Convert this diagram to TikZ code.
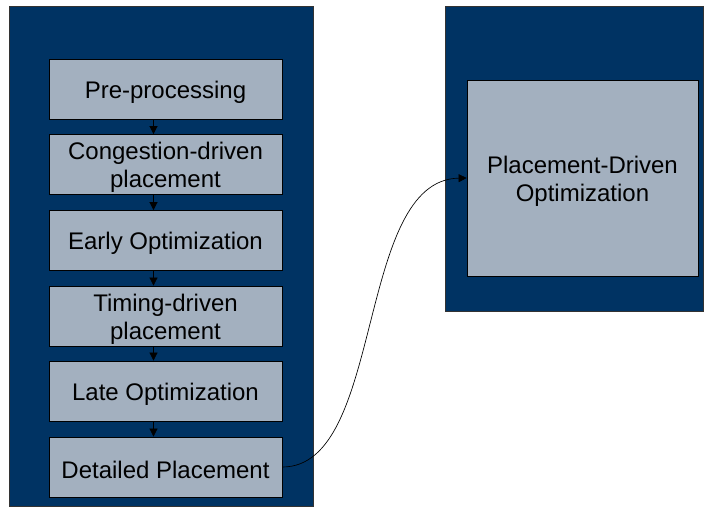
\documentclass[tikz,border=0pt]{standalone}
\usepackage{fontspec}
\setmainfont{Liberation Sans}
\usetikzlibrary{arrows.meta}
\definecolor{navy}{RGB}{0,51,99}
\definecolor{boxgray}{RGB}{163,176,191}
\begin{document}
\begin{tikzpicture}[x=0.75pt,y=-0.75pt,
  panel/.style={fill=navy,draw=black!80,line width=0.5pt},
  stepbox/.style={draw=black,fill=boxgray,line width=0.6pt,minimum width=174.75pt,minimum height=45pt,inner sep=0pt},
  steptext/.style={align=center,inner sep=0pt,yshift=-2.4pt,font=\fontsize{18}{21}\selectfont},
  flow/.style={-{Triangle[length=6pt,width=6pt]},line width=0.5pt}]
\useasboundingbox (0,0) rectangle (704,507);
\fill[white] (0,0) rectangle (704,507);
\draw[panel] (9,6) rectangle (313,506);
\draw[panel] (445,6) rectangle (703,311);
\node[stepbox,label={[steptext]center:Pre-processing}] (pre) at (165.5,89) {};
\node[stepbox,label={[steptext]center:Congestion-driven\\placement}] (cong) at (165.5,164.5) {};
\node[stepbox,label={[steptext]center:Early Optimization}] (early) at (165.5,240.5) {};
\node[stepbox,label={[steptext]center:Timing-driven\\placement}] (timing) at (165.5,316) {};
\node[stepbox,label={[steptext]center:Late Optimization}] (late) at (165.5,391) {};
\node[stepbox,label={[steptext]center:Detailed Placement}] (det) at (165.5,467) {};
\node[stepbox,minimum width=173.25pt,minimum height=147pt,label={[steptext]center:Placement-Driven\\Optimization}] (pdo) at (582.5,178) {};
\foreach \a/\b in {pre/cong,cong/early,early/timing,timing/late,late/det}
  \draw[flow] ([xshift=-9pt]\a.south) -- ([xshift=-9pt]\b.north);
\draw[flow] (det.east) .. controls (385,467) and (355,180) .. (pdo.west);
\end{tikzpicture}
\end{document}
